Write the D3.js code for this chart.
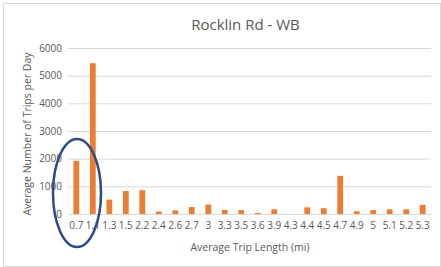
<!DOCTYPE html>
<html>
<head>
<meta charset="utf-8">
<script src="https://cdn.jsdelivr.net/npm/d3@7"></script>
<style>
  body { margin: 0; background: #fff; }
  text { font-family: "Open Sans", "Liberation Sans", sans-serif; fill: #595959; }
</style>
</head>
<body>
<script>
// trip length bins (mi) and average trips per day
let lengths = ["0.7", "1.1", "1.3", "1.5", "2.2", "2.4", "2.6", "2.7", "3", "3.3", "3.5",
               "3.6", "3.9", "4.3", "4.4", "4.5", "4.7", "4.9", "5", "5.1", "5.2", "5.3"];
let trips = [1920, 5450, 520, 830, 860, 90, 130, 250, 340, 150, 140,
             40, 170, 0, 240, 210, 1380, 100, 140, 170, 170, 330];
let yTicks = [0, 1000, 2000, 3000, 4000, 5000, 6000];

let width = 441,
    height = 267,
    margin = {top: 48, right: 10, bottom: 53, left: 68};

let svg = d3.select("body").append("svg")
    .attr("width", width)
    .attr("height", height);

// chart area border
svg.append("rect")
    .attr("x", 3.5).attr("y", 3.5)
    .attr("width", width - 4).attr("height", height - 4)
    .attr("fill", "none")
    .attr("stroke", "#d9d9d9");

let x = d3.scaleBand()
    .domain(lengths)
    .range([margin.left, width - margin.right])
    .paddingInner(0.65)
    .paddingOuter(0.33);

let y = d3.scaleLinear()
    .domain([0, 6000])
    .range([height - margin.bottom, margin.top]);

// gridlines
svg.append("g")
    .selectAll("line")
    .data(yTicks)
    .enter().append("line")
    .attr("x1", margin.left)
    .attr("x2", width - margin.right)
    .attr("y1", d => y(d) + 0.5)
    .attr("y2", d => y(d) + 0.5)
    .attr("stroke", "#d9d9d9");

// y axis labels
let yAxis = svg.append("g")
    .attr("transform", "translate(" + (margin.left - 6) + ",0)")
    .call(d3.axisLeft(y).tickValues(yTicks).tickFormat(d3.format("d")).tickSize(0).tickPadding(0));
yAxis.select(".domain").remove();
yAxis.selectAll("text").style("font-size", "10px").attr("fill", "#595959");

// bars
svg.append("g")
    .selectAll("rect")
    .data(trips)
    .enter().append("rect")
    .attr("x", (d, i) => x(lengths[i]))
    .attr("y", d => y(d))
    .attr("width", x.bandwidth())
    .attr("height", d => y(0) - y(d))
    .attr("fill", "#ed7d31");

// x axis labels
let xAxis = svg.append("g")
    .attr("transform", "translate(0," + y(0) + ")")
    .call(d3.axisBottom(x).tickSize(0).tickPadding(8));
xAxis.select(".domain").remove();
xAxis.selectAll("text").style("font-size", "10px").attr("fill", "#595959");

// title
svg.append("text")
    .attr("x", (margin.left + width - margin.right) / 2 - 4)
    .attr("y", 30)
    .attr("text-anchor", "middle")
    .style("font-size", "15px")
    .text("Rocklin Rd - WB");

// axis titles
svg.append("text")
    .attr("x", 250)
    .attr("y", 251)
    .attr("text-anchor", "middle")
    .style("font-size", "10.5px")
    .text("Average Trip Length (mi)");

svg.append("text")
    .attr("transform", "translate(31," + ((margin.top + y(0)) / 2 + 3) + ") rotate(-90)")
    .attr("text-anchor", "middle")
    .style("font-size", "10.5px")
    .text("Average Number of Trips per Day");

// hand-drawn highlight around first two bins
svg.append("ellipse")
    .attr("cx", 77)
    .attr("cy", 193)
    .attr("rx", 24)
    .attr("ry", 54)
    .attr("fill", "none")
    .attr("stroke", "#2f4a8a")
    .attr("stroke-width", 2.5);
</script>
</body>
</html>
